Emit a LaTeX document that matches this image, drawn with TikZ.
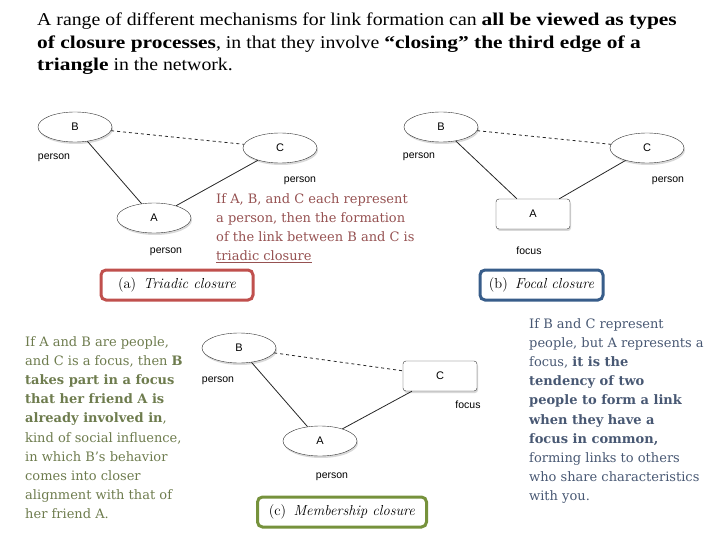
\documentclass[tikz,border=0pt]{standalone}
\usepackage{fontspec}
\usepackage{xcolor}
\usepackage{tikz}
\usetikzlibrary{positioning, shapes.geometric, shadows}
\newfontfamily\titlefont{Liberation Serif}[FakeStretch=1.1]
\newfontfamily\titleboldfont{Liberation Serif Bold}[FakeStretch=1.19]
\newfontfamily\slabfont{DejaVu Serif}
\newfontfamily\labelfont{Liberation Sans}
\definecolor{triadred}{RGB}{192, 80, 77}
\definecolor{focalblue}{RGB}{56, 93, 138}
\definecolor{membergreen}{RGB}{118, 146, 60}
\definecolor{triadtext}{RGB}{150, 82, 82}
\definecolor{focaltext}{RGB}{72, 88, 115}
\definecolor{membertext}{RGB}{110, 124, 78}
\newcommand{\titlebold}[1]{{\titleboldfont #1}}

\begin{document}
\begin{tikzpicture}[
    x=1pt, y=-1pt,
    person/.style={ellipse, draw=black!80, fill=white, minimum width=74pt, minimum height=30pt, inner sep=0pt, font=\labelfont\fontsize{11}{13}\selectfont, drop shadow={shadow xshift=1pt, shadow yshift=-2pt, opacity=0.3}},
    focus/.style={rectangle, rounded corners=3pt, draw=black!80, fill=white, minimum width=74pt, minimum height=30pt, inner sep=0pt, font=\labelfont\fontsize{11}{13}\selectfont, drop shadow={shadow xshift=1pt, shadow yshift=-2pt, opacity=0.3}},
    tag/.style={inner sep=0pt, font=\labelfont\fontsize{10.5}{12}\selectfont},
    link/.style={draw=black!85, line width=0.8pt},
    capbox/.style={rectangle, rounded corners=5pt, line width=3pt, fill=white, inner sep=0pt, minimum height=30pt, font=\fontsize{14.5}{16}\selectfont},
    note/.style={anchor=north west, align=left, inner sep=0pt, font=\slabfont\fontsize{13}{19.2}\selectfont}
]
\useasboundingbox (0,0) rectangle (720,540);

\node[anchor=north west, align=left, inner sep=0pt, font=\titlefont\fontsize{18}{22.3}\selectfont] (title) at (37,13)
  {A range of different mechanisms for link formation can \titlebold{all be viewed as types}\\
  \titlebold{of closure processes}, in that they involve \titlebold{“closing” the third edge of a}\\
  \titlebold{triangle} in the network.};

% (a) triadic closure
\node[person] (aB) at (75,127) {B};
\node[person] (aC) at (280,148) {C};
\node[person] (aA) at (154,218) {A};
\node[tag] (aBtag) at (54,158) {person};
\node[tag] (aCtag) at (300,181) {person};
\node[tag] (aAtag) at (166,252) {person};
\draw[link] (aB) -- (aA);
\draw[link] (aA) -- (aC);
\draw[link, dashed] (aB) -- (aC);
\node[note, text=triadtext] (atext) at (216,193)
  {If A, B, and C each represent\\
   a person, then the formation\\
   of the link between B and C is\\
   \underline{triadic closure}};
\node[capbox, draw=triadred, minimum width=152pt] (acap) at (177,285) {(a)\enspace\textit{Triadic closure}};

% (b) focal closure
\node[person] (bB) at (441,127) {B};
\node[person] (bC) at (647,148) {C};
\node[focus] (bA) at (533,214) {A};
\node[tag] (bBtag) at (419,157) {person};
\node[tag] (bCtag) at (668,181) {person};
\node[tag] (bAtag) at (529,251) {focus};
\draw[link] (bB) -- (bA);
\draw[link] (bA) -- (bC);
\draw[link, dashed] (bB) -- (bC);
\node[capbox, draw=focalblue, minimum width=123pt] (bcap) at (541.5,285) {(b)\enspace\textit{Focal closure}};
\node[note, text=focaltext] (btext) at (529,318)
  {If B and C represent\\
   people, but A represents a\\
   focus, \textbf{it is the}\\
   \textbf{tendency of two}\\
   \textbf{people to form a link}\\
   \textbf{when they have a}\\
   \textbf{focus in common,}\\
   forming links to others\\
   who share characteristics\\
   with you.};

% (c) membership closure
\node[person] (cB) at (239,348) {B};
\node[focus] (cC) at (440,376) {C};
\node[person] (cA) at (320,441) {A};
\node[tag] (cBtag) at (218,381) {person};
\node[tag] (cCtag) at (468,405) {focus};
\node[tag] (cAtag) at (332,477) {person};
\draw[link] (cB) -- (cA);
\draw[link] (cA) -- (cC);
\draw[link, dashed] (cB) -- (cC);
\node[capbox, draw=membergreen, minimum width=169pt] (ccap) at (342,512) {(c)\enspace\textit{Membership closure}};
\node[note, text=membertext] (ctext) at (25,336)
  {If A and B are people,\\
   and C is a focus, then \textbf{B}\\
   \textbf{takes part in a focus}\\
   \textbf{that her friend A is}\\
   \textbf{already involved in},\\
   kind of social influence,\\
   in which B’s behavior\\
   comes into closer\\
   alignment with that of\\
   her friend A.};
\end{tikzpicture}
\end{document}
